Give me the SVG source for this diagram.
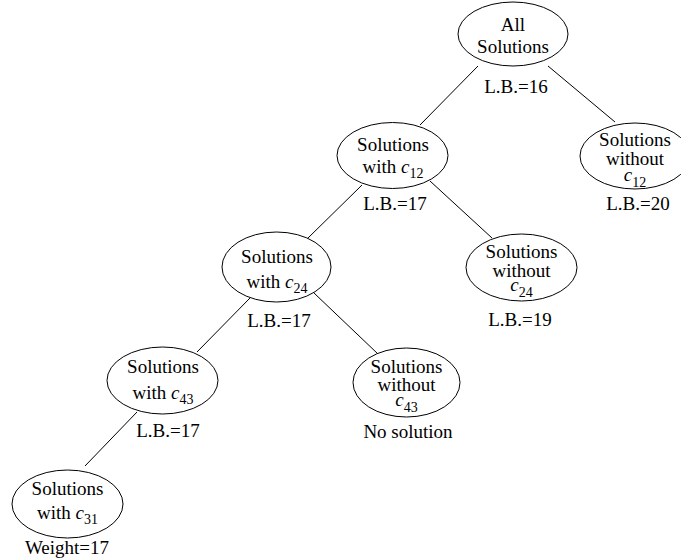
<svg xmlns="http://www.w3.org/2000/svg" width="681" height="559" viewBox="0 0 681 559">
<style>
.n{fill:#fff;stroke:#000;stroke-width:1}
.e line{stroke:#000;stroke-width:1}
text{font-family:"Liberation Serif","Times New Roman",serif;font-size:19px;fill:#000;text-anchor:middle}
.i{font-style:italic}
.s{font-size:14px}
</style>
<rect width="681" height="559" fill="#fff"/>
<g id="edges" class="e">
<line x1="478" y1="66" x2="420" y2="125"/>
<line x1="548" y1="66" x2="615" y2="122"/>
<line x1="362" y1="185" x2="307" y2="239"/>
<line x1="430" y1="181" x2="492" y2="238"/>
<line x1="250" y1="298" x2="197" y2="352"/>
<line x1="314" y1="293" x2="378" y2="354"/>
<line x1="137" y1="412" x2="85" y2="466"/>
</g>
<g id="root">
<ellipse class="n" cx="513" cy="34" rx="55" ry="32"/>
<text x="513" y="31">All</text>
<text x="513" y="53">Solutions</text>
<text x="516" y="93">L.B.=16</text>
</g>
<g id="without_c12">
<ellipse class="n" cx="635" cy="156" rx="55" ry="33"/>
<text x="635" y="146">Solutions<tspan x="635" y="165">without</tspan><tspan x="635" y="181" class="i">c</tspan><tspan class="s" dy="6">12</tspan></text>
<text x="638" y="210">L.B.=20</text>
</g>
<g id="with_c12">
<ellipse class="n" cx="392.5" cy="155.5" rx="55.5" ry="33"/>
<text x="393" y="151">Solutions</text>
<text x="393" y="173">with <tspan class="i">c</tspan><tspan class="s" dy="5">12</tspan></text>
<text x="395" y="210">L.B.=17</text>
</g>
<g id="without_c24">
<ellipse class="n" cx="521.5" cy="267.5" rx="55.5" ry="33.5"/>
<text x="521.5" y="258">Solutions<tspan x="521.5" y="277">without</tspan><tspan x="521.5" y="291" class="i">c</tspan><tspan class="s" dy="6">24</tspan></text>
<text x="520" y="326">L.B.=19</text>
</g>
<g id="with_c24">
<ellipse class="n" cx="276.5" cy="267" rx="54.5" ry="35"/>
<text x="277" y="263">Solutions</text>
<text x="277" y="288">with <tspan class="i">c</tspan><tspan class="s" dy="5">24</tspan></text>
<text x="279" y="327">L.B.=17</text>
</g>
<g id="without_c43">
<ellipse class="n" cx="406.5" cy="382.5" rx="53.5" ry="34.5"/>
<text x="406.5" y="373">Solutions<tspan x="406.5" y="391">without</tspan><tspan x="406.5" y="406" class="i">c</tspan><tspan class="s" dy="6">43</tspan></text>
<text x="408" y="438">No solution</text>
</g>
<g id="with_c43">
<ellipse class="n" cx="162.5" cy="380.5" rx="55.5" ry="33.5"/>
<text x="163" y="373">Solutions</text>
<text x="163" y="399">with <tspan class="i">c</tspan><tspan class="s" dy="5">43</tspan></text>
<text x="168" y="437">L.B.=17</text>
</g>
<g id="with_c31">
<ellipse class="n" cx="67.5" cy="504" rx="55.5" ry="34"/>
<text x="67.5" y="495">Solutions</text>
<text x="67.5" y="519">with <tspan class="i">c</tspan><tspan class="s" dy="5">31</tspan></text>
<text x="67" y="554">Weight=17</text>
</g>
</svg>
